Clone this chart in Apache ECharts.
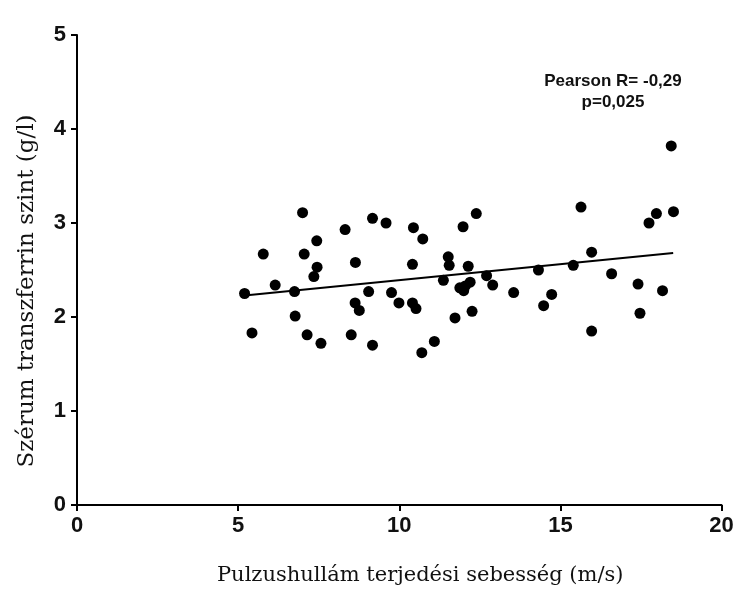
<!DOCTYPE html>
<html>
<head>
<meta charset="utf-8">
<script src="https://cdn.jsdelivr.net/npm/echarts@6/dist/echarts.min.js"></script>
<style>
  html, body { margin: 0; padding: 0; background: #fff; }
  #main { width: 737px; height: 592px; }
</style>
</head>
<body>
<div id="main"></div>
<script>
// pulzushullám sebesség (m/s)
var pwvValues = [
  7.00, 9.17, 9.59, 8.32, 10.44, 10.73, 7.44, 5.78, 7.05, 8.64,
  10.41, 11.52, 11.55, 7.45, 7.35, 6.15, 11.37, 5.20, 6.75, 9.05,
  9.76, 8.63, 8.76, 9.99, 10.41, 10.52, 6.77, 11.73, 5.43, 7.14,
  8.51, 7.57, 9.17, 11.09, 10.70, 11.98, 12.39, 12.14, 11.88, 12.00,
  12.05, 12.20, 12.71, 12.90, 13.55, 14.32, 14.73, 14.48, 15.40, 15.64,
  15.97, 16.59, 15.97, 17.41, 17.47, 17.75, 17.98, 18.17, 18.51, 18.44,
  12.26
];
// szérum transzferrin (g/l)
var transferrinValues = [
  3.11, 3.05, 3.00, 2.93, 2.95, 2.83, 2.81, 2.67, 2.67, 2.58,
  2.56, 2.64, 2.55, 2.53, 2.43, 2.34, 2.39, 2.25, 2.27, 2.27,
  2.26, 2.15, 2.07, 2.15, 2.15, 2.09, 2.01, 1.99, 1.83, 1.81,
  1.81, 1.72, 1.70, 1.74, 1.62, 2.96, 3.10, 2.54, 2.31, 2.28,
  2.33, 2.37, 2.44, 2.34, 2.26, 2.50, 2.24, 2.12, 2.55, 3.17,
  2.69, 2.46, 1.85, 2.35, 2.04, 3.00, 3.10, 2.28, 3.12, 3.82,
  2.06
];
// regressziós egyenes végpontjai
var fitX = [5.2, 18.5];
var fitY = [2.23, 2.68];

var xTicks = [0, 5, 10, 15, 20];
var yTicks = [0, 1, 2, 3, 4, 5];

var statLines = ['Pearson R= -0,29', 'p=0,025'];

var points = pwvValues.map(function (x, i) { return [x, transferrinValues[i]]; });
var fitLine = fitX.map(function (x, i) { return [x, fitY[i]]; });

var chart = echarts.init(document.getElementById('main'));
chart.setOption({
  animation: false,
  backgroundColor: '#fff',
  grid: { left: 77, right: 15.5, top: 35, bottom: 87 },
  title: {
    text: statLines.join('\n'),
    left: 608,
    top: 66,
    textAlign: 'center',
    textStyle: {
      fontFamily: 'Liberation Sans',
      fontWeight: 'bold',
      fontSize: 17,
      lineHeight: 21,
      color: '#111'
    }
  },
  xAxis: {
    type: 'value',
    min: xTicks[0],
    max: xTicks[xTicks.length - 1],
    interval: 5,
    name: 'Pulzushullám terjedési sebesség (m/s)',
    nameLocation: 'middle',
    nameGap: 60,
    nameTextStyle: { fontFamily: 'DejaVu Serif', fontSize: 21, color: '#111', padding: [0, 0, 0, 42] },
    axisLine: { lineStyle: { color: '#000', width: 2 } },
    axisTick: { show: true, length: 6, lineStyle: { color: '#000', width: 2 } },
    axisLabel: { fontFamily: 'Liberation Sans', fontWeight: 'bold', fontSize: 22, color: '#111', margin: 10 },
    splitLine: { show: false }
  },
  yAxis: {
    type: 'value',
    min: yTicks[0],
    max: yTicks[yTicks.length - 1],
    interval: 1,
    name: 'Szérum transzferrin szint (g/l)',
    nameLocation: 'middle',
    nameGap: 38,
    nameRotate: 90,
    nameTextStyle: { fontFamily: 'DejaVu Serif', fontSize: 23, color: '#111', padding: [0, 42, 0, 0] },
    axisLine: { lineStyle: { color: '#000', width: 2 } },
    axisTick: { show: true, length: 6, lineStyle: { color: '#000', width: 2 } },
    axisLabel: { fontFamily: 'Liberation Sans', fontWeight: 'bold', fontSize: 22, color: '#111', margin: 11 },
    splitLine: { show: false }
  },
  series: [
    {
      type: 'scatter',
      data: points,
      symbol: 'circle',
      symbolSize: 11,
      itemStyle: { color: '#000', opacity: 1 }
    },
    {
      type: 'line',
      data: fitLine,
      symbol: 'none',
      lineStyle: { color: '#000', width: 2 },
      z: 3
    }
  ]
});
</script>
</body>
</html>
